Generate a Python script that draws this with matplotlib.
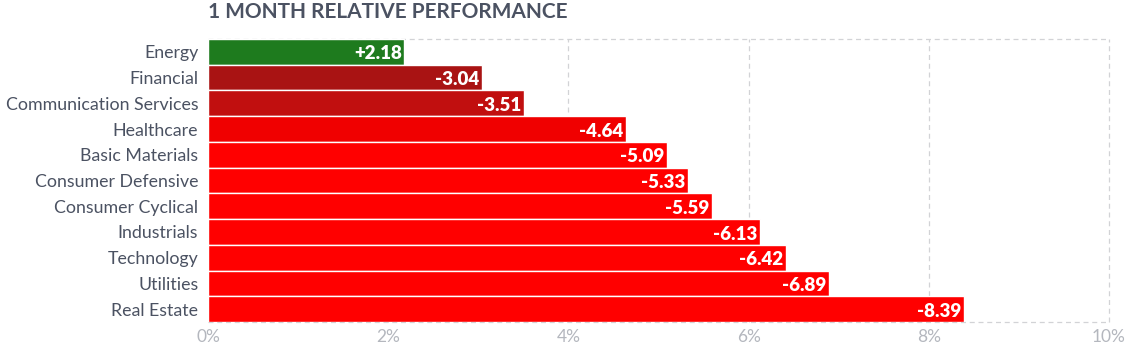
import matplotlib
matplotlib.use("Agg")
import matplotlib.pyplot as plt

sectors = ["Energy", "Financial", "Communication Services", "Healthcare",
           "Basic Materials", "Consumer Defensive", "Consumer Cyclical",
           "Industrials", "Technology", "Utilities", "Real Estate"]
performance = [2.18, -3.04, -3.51, -4.64, -5.09, -5.33, -5.59,
               -6.13, -6.42, -6.89, -8.39]
bar_colors = ["#1e7b1e", "#a91313", "#c10f0f", "#f00000", "#ff0000",
              "#ff0000", "#ff0000", "#ff0000", "#ff0000", "#ff0000", "#ff0000"]
xticks = [0, 2, 4, 6, 8, 10]

plt.rcParams['font.family'] = ['Lato', 'DejaVu Sans']

fig = plt.figure(figsize=(11.31, 3.48), dpi=100)
ax = fig.add_axes([208 / 1131, 1 - 322 / 348, (1109 - 208) / 1131, (322 - 39) / 348])

n = len(sectors)
ypos = list(range(n))
mags = [abs(v) for v in performance]
ax.barh(ypos, mags, height=1.0, color=bar_colors, edgecolor="white",
        linewidth=1.0, zorder=2)

for y, v, m in zip(ypos, performance, mags):
    label = f"{v:+.2f}"
    ax.text(m - 0.03, y + 0.08, label, ha="right", va="center", color="white",
            fontsize=13.5, fontweight="heavy", zorder=3)

ax.set_xlim(0, 10)
ax.set_ylim(n - 0.5, -0.5)
ax.set_yticks(ypos)
ax.set_yticklabels(sectors, fontsize=12.8, color="#4b5262")
for lbl in ax.get_yticklabels():
    lbl.set_y(lbl.get_position()[1])
ax.set_xticks(xticks)
ax.set_xticklabels([f"{t}%" for t in xticks], fontsize=12.5, color="#b4b7be")
ax.tick_params(axis="y", length=0, pad=7)
ax.tick_params(axis="x", length=0, pad=5)

grid_kw = dict(color="#d2d3d6", linewidth=0.9, linestyle=(0, (4, 3)),
               zorder=1, clip_on=False)
for t in xticks[1:]:
    ax.axvline(t, **grid_kw)
for side in ["left", "right", "top", "bottom"]:
    ax.spines[side].set_visible(False)
ax.axhline(-0.5, **grid_kw)
ax.axhline(n - 0.5, **grid_kw)

fig.text(208 / 1131, 1 - 12 / 348, "1 MONTH RELATIVE PERFORMANCE", ha="left",
         va="center", fontsize=15, fontweight="bold", color="#4b5262")

fig.savefig("out.png", dpi=100)
